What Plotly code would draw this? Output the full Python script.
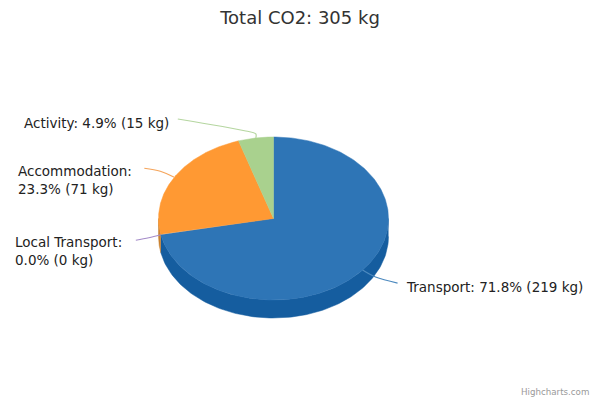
import numpy as np
import plotly.graph_objects as go

# Data
categories = ["Transport", "Local Transport", "Accommodation", "Activity"]
values_kg = [219, 0, 71, 15]
title_text = "Total CO2: 305 kg"

# Styles
top_colors = ["#2e75b6", "#8e6bbf", "#ff9933", "#a9d18e"]
side_colors = ["#155d9f", "#6d4f9a", "#c9802f", "#7fa968"]
line_colors = ["#4d8abf", "#a58cc9", "#f5a55c", "#b5d6a0"]
text_color = "#333333"
FONT = "DejaVu Sans"
CX, CY, RX, RY, DEPTH = 273.5, 218.5, 115, 81.5, 18

# Connector shape and label placement, relative to each slice's edge anchor (pixels)
connector_offsets = [
    [(0, 0), (13, 7), (35, 13)],
    [(0, 0), (-12, 3), (-25, 5.5)],
    [(0, 0), (-14, -6), (-30, -9)],
    [(0, 0), (0, -4), (-10, -7), (-78, -19)],
]
label_layout = [
    (404, 287, "{n}: {p:.1f}% ({v} kg)"),
    (13, 251, "{n}:<br>{p:.1f}% ({v} kg)"),
    (16, 180, "{n}:<br>{p:.1f}% ({v} kg)"),
    (22, 123, "{n}: {p:.1f}% ({v} kg)"),
]


def ex(t):
    return CX + RX * np.sin(np.radians(t))


def ey(t):
    return CY - RY * np.cos(np.radians(t))


total = sum(values_kg)
edges = np.concatenate([[0], np.cumsum(values_kg)]) / total * 360
fig = go.Figure()


def poly(xs, ys, color):
    fig.add_trace(go.Scatter(x=xs, y=ys, mode="lines", fill="toself", fillcolor=color,
                             line=dict(color=color, width=0.5), hoverinfo="skip", showlegend=False))


# Front side walls (only the visible arc between 90 and 270 degrees)
for i in range(len(values_kg)):
    a, b = max(edges[i], 90), min(edges[i + 1], 270)
    if b > a:
        t = np.linspace(a, b, 120)
        poly(np.r_[ex(t), ex(t[::-1])], np.r_[ey(t), ey(t[::-1]) + DEPTH], side_colors[i])

# Top faces
for i in range(len(values_kg)):
    if values_kg[i] > 0:
        t = np.linspace(edges[i], edges[i + 1], 240)
        poly(np.r_[CX, ex(t), CX], np.r_[CY, ey(t), CY], top_colors[i])

# Connectors and labels
annotations = []
for i, name in enumerate(categories):
    mid = (edges[i] + edges[i + 1]) / 2
    ax, ay = ex(mid), ey(mid)
    off = connector_offsets[i]
    fig.add_trace(go.Scatter(x=[ax + o[0] for o in off], y=[ay + o[1] for o in off], mode="lines",
                             line=dict(color=line_colors[i], width=1.2, shape="spline"),
                             hoverinfo="skip", showlegend=False))
    lx, ly, fmt = label_layout[i]
    annotations.append(dict(x=lx, y=ly, xref="x", yref="y", xanchor="left", yanchor="middle",
                            align="left", showarrow=False,
                            text=fmt.format(n=name, p=values_kg[i] / total * 100, v=values_kg[i]),
                            font=dict(family=FONT, size=13.5, color="#222222")))

annotations.append(dict(x=591, y=392, xref="x", yref="y", xanchor="right", yanchor="middle",
                        showarrow=False, text="Highcharts.com",
                        font=dict(family=FONT, size=8.7, color="#999999")))

fig.update_layout(
    width=600, height=400, margin=dict(l=0, r=0, t=0, b=0),
    paper_bgcolor="white", plot_bgcolor="white", showlegend=False,
    title=dict(text=title_text, x=0.5, xanchor="center", y=0.955, yanchor="middle",
               font=dict(family=FONT, size=18, color=text_color)),
    xaxis=dict(range=[0, 600], visible=False, fixedrange=True),
    yaxis=dict(range=[400, 0], visible=False, fixedrange=True),
    annotations=annotations,
)
fig.write_html("out.html", config=dict(displayModeBar=False),
               post_script="document.body.style.margin='0';document.body.style.overflow='hidden';")
